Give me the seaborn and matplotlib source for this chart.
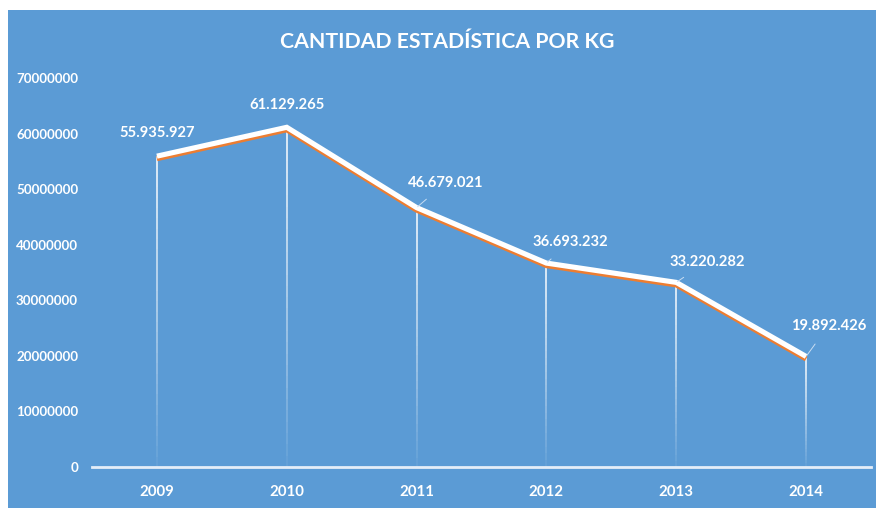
import numpy as np
import pandas as pd
import matplotlib
matplotlib.use("Agg")
import matplotlib.pyplot as plt
import matplotlib.patheffects as pe
from matplotlib.patches import Rectangle
from matplotlib.ticker import FuncFormatter
import seaborn as sns

years = ["2009", "2010", "2011", "2012", "2013", "2014"]
values = [55935927, 61129265, 46679021, 36693232, 33220282, 19892426]
labels = ["55.935.927", "61.129.265", "46.679.021", "36.693.232", "33.220.282", "19.892.426"]
yticks = [0, 10000000, 20000000, 30000000, 40000000, 50000000, 60000000, 70000000]
title = "CANTIDAD ESTADÍSTICA POR KG"

BLUE = "#5B9BD5"
ORANGE = "#ED7D31"

sns.set_theme(style="white")
plt.rcParams["font.family"] = ["Lato", "DejaVu Sans"]

fig = plt.figure(figsize=(8.76, 5.08), dpi=100)
fig.patch.set_facecolor("white")
fig.patches.append(Rectangle((8 / 876, 0), 1, 1 - 10 / 508, transform=fig.transFigure,
                             facecolor=BLUE, edgecolor="none", zorder=-10))
ax = fig.add_axes([92 / 876, 1 - 467 / 508, 779 / 876, (467 - 78) / 508])
ax.set_facecolor("none")

df = pd.DataFrame({"pos": np.arange(len(years)), "value": values})

# drop lines fading toward the axis
nseg = 30
for x, v in zip(df["pos"], df["value"]):
    edges = np.linspace(v, 0, nseg + 1)
    for i in range(nseg):
        a = 1.0 - 0.92 * (i / (nseg - 1)) ** 1.2
        ax.vlines(x, edges[i + 1], edges[i], color="white", lw=1.1, alpha=a, zorder=2)

sns.lineplot(data=df, x="pos", y="value", ax=ax, color="white", lw=3.7, zorder=5,
             solid_capstyle="butt", solid_joinstyle="miter",
             path_effects=[pe.SimpleLineShadow(offset=(0, -1.8), shadow_color=ORANGE, alpha=1.0, rho=1.0),
                           pe.Normal()])

# data labels
offsets = [(0, 17), (0, 16), (21, 18), (17, 15), (22, 15), (16, 22)]
leaders = [False, False, True, True, True, True]
for x, v, lab, off, ld in zip(df["pos"], df["value"], labels, offsets, leaders):
    ax.annotate(lab, xy=(x, v), xytext=off, textcoords="offset points",
                ha="center", va="center", color="white", fontsize=10.6, fontweight="bold",
                arrowprops=(dict(arrowstyle="-", color="#C9DDF2", lw=0.7, shrinkA=7, shrinkB=1)
                            if ld else None), zorder=6)

ax.set_xlim(-0.5, len(years) - 0.5)
ax.set_ylim(0, 70000000)
ax.set_xticks(df["pos"])
ax.set_xticklabels(years)
ax.set_yticks(yticks)
ax.yaxis.set_major_formatter(FuncFormatter(lambda v, p: f"{v:.0f}"))
ax.tick_params(axis="both", length=0, colors="white")
ax.tick_params(axis="y", pad=10, labelsize=9.6)
ax.tick_params(axis="x", pad=13, labelsize=10.8)
for t in ax.get_xticklabels() + ax.get_yticklabels():
    t.set_fontweight("bold")
ax.set_xlabel("")
ax.set_ylabel("")
for s in ["top", "right", "left"]:
    ax.spines[s].set_visible(False)
ax.spines["bottom"].set_color("#E4EEF8")
ax.spines["bottom"].set_linewidth(2)

fig.text(447 / 876, 1 - 42 / 508, title, ha="center", va="center", color="white",
         fontsize=15.3, fontweight="bold")

fig.savefig("out.png", dpi=100)
